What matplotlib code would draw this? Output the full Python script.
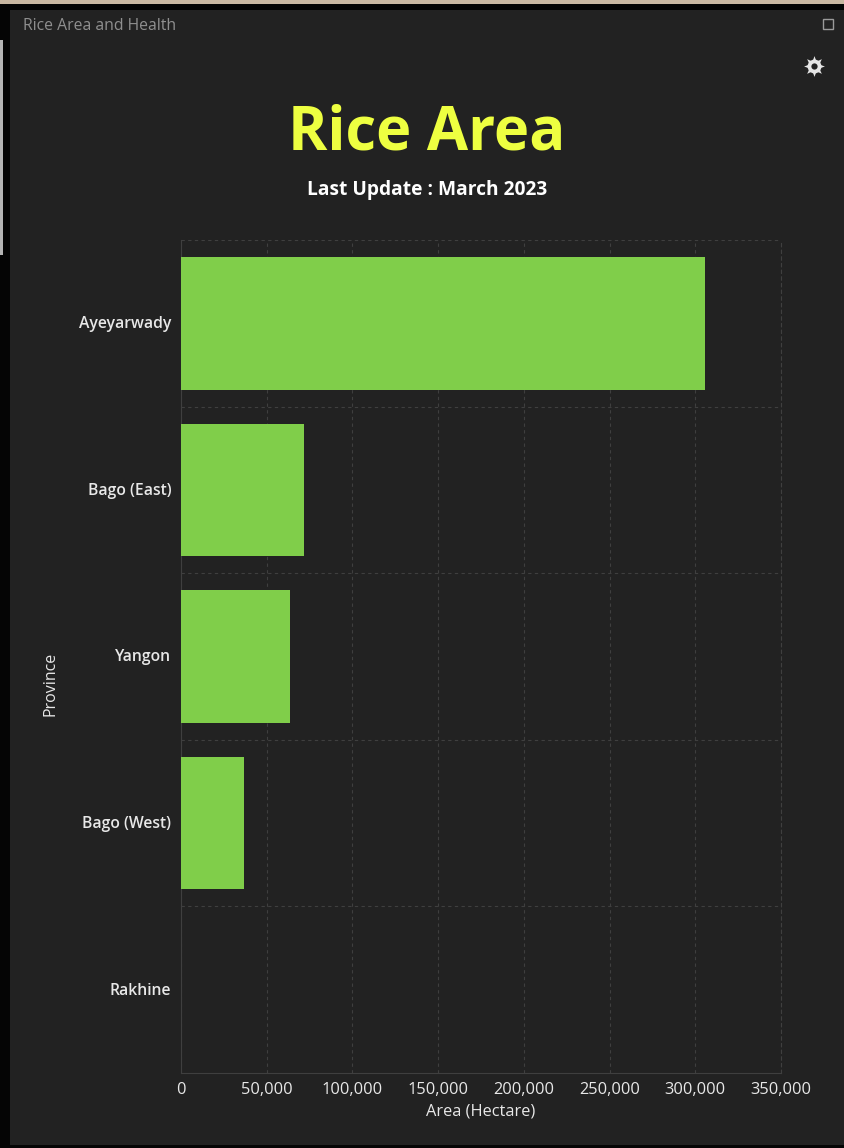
import matplotlib
matplotlib.use('Agg')
import matplotlib.pyplot as plt
import matplotlib.transforms as mtrans
from matplotlib.lines import Line2D
from matplotlib.patches import Rectangle
from matplotlib.ticker import FuncFormatter

provinces = ['Ayeyarwady', 'Bago (East)', 'Yangon', 'Bago (West)', 'Rakhine']
area = [305700, 71800, 63500, 36800, 0]
xticks = [0, 50000, 100000, 150000, 200000, 250000, 300000, 350000]

W, H = 844, 1148
BG = '#222222'
plt.rcParams['font.family'] = ['Open Sans', 'DejaVu Sans']

fig = plt.figure(figsize=(W / 100, H / 100), dpi=100, facecolor='#050505')


def px_rect(x0, y0, x1, y1, **kw):
    # rectangle given in image pixels, y down
    fig.patches.append(Rectangle((x0 / W, 1 - y1 / H), (x1 - x0) / W, (y1 - y0) / H,
                                 transform=fig.transFigure, **kw))


def gear_part(marker, size, color):
    fig.add_artist(Line2D([814 / W], [1 - 66 / H], transform=fig.transFigure, marker=marker,
                          markersize=size, color=color, markeredgewidth=0, linestyle='none', zorder=6))


# window frame bits
px_rect(0, 0, W, 4, facecolor='#c9b8a2', edgecolor='none')
px_rect(0, 40, 3, 255, facecolor='#b5b5b5', edgecolor='none')
px_rect(10, 10, 844, 1145, facecolor=BG, edgecolor='none')
px_rect(823, 19, 833, 29, facecolor='none', edgecolor='#9a9a9a', linewidth=1)

# settings icon
gear_part((8, 1, 0), 15, '#e6e6e6')
gear_part('o', 10, '#e6e6e6')
gear_part('o', 4.5, BG)

fig.text(23 / W, 1 - 26 / H, 'Rice Area and Health', color='#8f8f8f', fontsize=11.3, va='center')
fig.text(427 / W, 1 - 134 / H, 'Rice Area', color='#eeff41', fontsize=43, fontweight='bold',
         va='center', ha='center')
fig.text(427 / W, 1 - 190 / H, 'Last Update : March 2023', color='white', fontsize=13.8,
         fontweight='bold', va='center', ha='center')

ax = fig.add_axes([181 / W, 1 - 1073 / H, 600 / W, 833 / H], facecolor='none')
ax.set_zorder(5)
ax.barh(provinces, area, height=0.795, color='#80ce4a', edgecolor='none', zorder=3)
ax.set_xlim(0, 350000)
ax.set_ylim(4.5, -0.5)
ax.set_xticks(xticks)
ax.xaxis.set_major_formatter(FuncFormatter(lambda v, p: f'{int(v):,}'))
ax.set_yticks([0.5, 1.5, 2.5, 3.5, -0.5], minor=True)
ax.grid(True, axis='x', color='#3f3f3f', linestyle=(0, (3, 3)), linewidth=0.8, zorder=1)
ax.grid(True, axis='y', which='minor', color='#3f3f3f', linestyle=(0, (3, 3)), linewidth=0.8, zorder=1)
ax.grid(False, axis='y', which='major')
ax.set_axisbelow(True)
ax.tick_params(axis='both', which='both', length=0)
ax.tick_params(axis='x', colors='#e8e8e8', labelsize=11.8, pad=6.5)
ax.tick_params(axis='y', colors='#e8e8e8', labelsize=11.3, pad=7)
ax.spines['top'].set_visible(False)
ax.spines['right'].set_color('#3f3f3f')
ax.spines['right'].set_linestyle((0, (3, 3)))
ax.spines['right'].set_linewidth(0.8)
for s in ['left', 'bottom']:
    ax.spines[s].set_color('#3f3f3f')
    ax.spines[s].set_linewidth(0.8)
# y labels sit a little higher than the band centre
up = mtrans.ScaledTranslation(0, 0.8 / 72, fig.dpi_scale_trans)
for lab in ax.get_yticklabels():
    lab.set_fontweight('semibold')
    lab.set_transform(lab.get_transform() + up)

fig.text(481 / W, 1 - 1111 / H, 'Area (Hectare)', color='#e8e8e8', fontsize=11.8, va='center', ha='center')
fig.text(50 / W, 1 - 684 / H, 'Province', color='#e8e8e8', fontsize=11.5, va='center', ha='center',
         rotation=90)

fig.savefig('out.png', dpi=100, facecolor=fig.get_facecolor())
